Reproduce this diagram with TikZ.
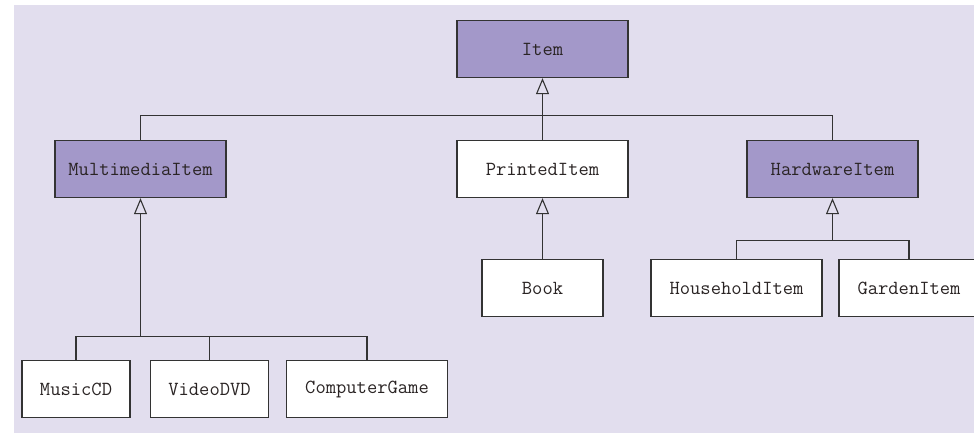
\documentclass[tikz,border=0pt]{standalone}
\usetikzlibrary{arrows.meta}
\definecolor{panel}{HTML}{E2DEEE}
\definecolor{classfill}{HTML}{A398C9}
\definecolor{edge}{HTML}{333333}
\definecolor{ink}{HTML}{2A2424}
\tikzset{
  cls/.style={draw=edge, line width=1.3pt, fill=white, minimum height=57pt,
    inner sep=0pt, font=\ttfamily\fontsize{20}{23}\selectfont, text=ink},
  abstractcls/.style={cls, fill=classfill},
  link/.style={draw=edge, line width=1.1pt},
  inherit/.style={link, -{Triangle[open, length=16pt, width=13pt, line width=1.1pt]}},
}
\begin{document}
\begin{tikzpicture}[x=1pt, y=-1pt]
  % page and shaded panel
  \useasboundingbox (0,0) rectangle (974,433);
  \clip (0,0) rectangle (974,433);
  \fill[white] (0,0) rectangle (974,433);
  \fill[panel] (14,5) rectangle (974,433);

  % top level
  \node[abstractcls, minimum width=171pt] (item) at (542.5,49) {Item};

  % second level
  \node[abstractcls, minimum width=171pt] (multi) at (140.5,169) {MultimediaItem};
  \node[cls, minimum width=171pt] (printed) at (542.5,169) {PrintedItem};
  \node[abstractcls, minimum width=171pt] (hard) at (832.5,169) {HardwareItem};

  % third level
  \node[cls, minimum width=121pt] (book) at (542.5,288) {Book};
  \node[cls, minimum width=171pt] (house) at (736.5,288) {HouseholdItem};
  \node[cls, minimum width=140pt] (garden) at (909,288) {GardenItem};

  \node[cls, minimum width=108pt] (music) at (76,389) {MusicCD};
  \node[cls, minimum width=118pt] (video) at (209.5,389) {VideoDVD};
  \node[cls, minimum width=161pt] (game) at (367,389) {ComputerGame};

  % junction points of the tree lines
  \coordinate (jtop) at (542.5,115.5);
  \coordinate (jhard) at (832.5,240.5);
  \coordinate (jmulti) at (140.5,336.5);

  % Item and its subclasses
  \draw[link] (multi.north) |- (jtop) -| (hard.north);
  \draw[inherit] (printed.north) -- (item.south);

  % PrintedItem -> Book
  \draw[inherit] (book.north) -- (printed.south);

  % HardwareItem and its subclasses
  \draw[link] (house.north) |- (jhard) -| (garden.north);
  \draw[inherit] (jhard) -- (hard.south);

  % MultimediaItem and its subclasses
  \draw[link] (music.north) |- (jmulti) -| (game.north);
  \draw[link] (video.north) -- (video.north |- jmulti);
  \draw[inherit] (jmulti) -- (multi.south);
\end{tikzpicture}
\end{document}
